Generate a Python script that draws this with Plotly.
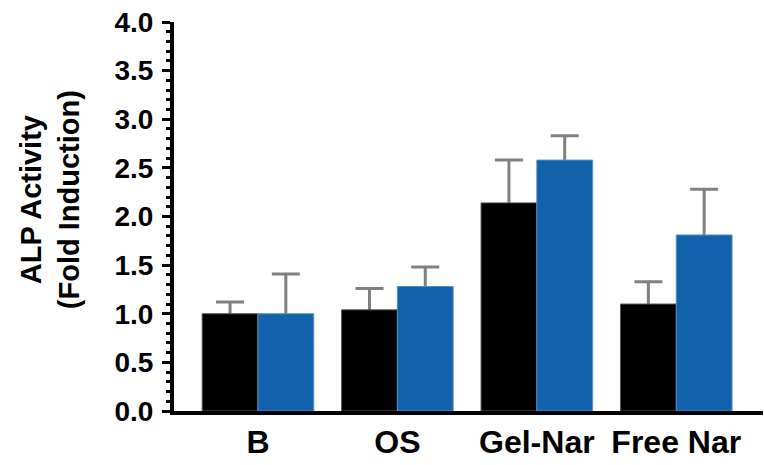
import plotly.graph_objects as go

# ALP activity (fold induction) per treatment, two conditions per group
categories = ["B", "OS", "Gel-Nar", "Free Nar"]
black_vals = [1.00, 1.04, 2.14, 1.10]
black_err = [0.12, 0.22, 0.44, 0.23]
blue_vals = [1.00, 1.28, 2.58, 1.81]
blue_err = [0.41, 0.20, 0.25, 0.47]
y_ticks = [0.0, 0.5, 1.0, 1.5, 2.0, 2.5, 3.0, 3.5, 4.0]
y_title = "ALP Activity<br>(Fold Induction)"

BLACK = "#000000"
BLUE = "#1162ab"
ERR = "#808080"
FONT = "Liberation Sans, Arial, sans-serif"

series = [
    (black_vals, black_err, BLACK, "#555555", -0.4),
    (blue_vals, blue_err, BLUE, "#4f8fcc", 0.0),
]

fig = go.Figure()

# Error whiskers first (transparent bars), so the filled bars drawn
# afterwards hide the lower half of each whisker.
for vals, err, _, _, off in series:
    fig.add_trace(go.Bar(
        x=categories, y=vals, width=0.4, offset=off,
        marker=dict(color="rgba(0,0,0,0)", line=dict(width=0)),
        error_y=dict(type="data", array=err, visible=True,
                     color=ERR, thickness=3, width=14),
        showlegend=False, hoverinfo="skip",
    ))

for vals, _, fill, edge, off in series:
    fig.add_trace(go.Bar(
        x=categories, y=vals, width=0.4, offset=off,
        marker=dict(color=fill, line=dict(color=edge, width=1)),
        showlegend=False,
    ))

fig.update_layout(
    width=764, height=465,
    margin=dict(l=174, r=1, t=22, b=54),
    barmode="overlay",
    plot_bgcolor="white", paper_bgcolor="white",
    font=dict(family=FONT, color="black"),
    annotations=[dict(
        text=y_title, textangle=-90,
        xref="paper", yref="paper", x=0, y=0.542,
        xanchor="center", yanchor="middle", xshift=-124,
        showarrow=False,
        font=dict(size=29, weight="bold", family=FONT),
    )],
)

fig.update_xaxes(
    type="category", range=[-0.602, 3.622],
    showline=True, linecolor="black", linewidth=4,
    ticks="", showgrid=False, zeroline=False,
    tickfont=dict(size=32, weight="bold", family=FONT),
)

fig.update_yaxes(
    range=[0, 4], tickvals=y_ticks, tickformat=".1f",
    showline=True, linecolor="black", linewidth=4,
    ticks="outside", ticklen=8, tickwidth=3, tickcolor="black",
    ticklabelstandoff=3,
    minor=dict(dtick=0.1, ticks="outside", ticklen=4, tickwidth=2.5,
               tickcolor="black", showgrid=False),
    showgrid=False, zeroline=False,
    tickfont=dict(size=28, weight="bold", family=FONT),
)

fig.write_html("out.html")
